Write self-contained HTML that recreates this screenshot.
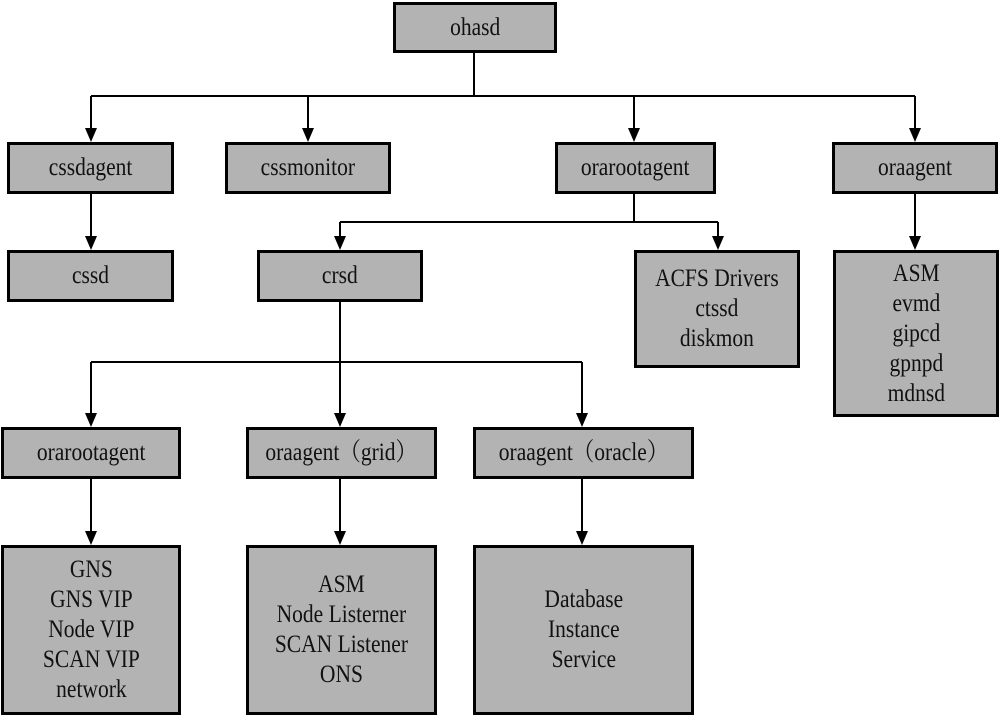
<!DOCTYPE html>
<html><head><meta charset="utf-8"><style>
body{margin:0;width:1000px;height:716px;background:#fff;position:relative;overflow:hidden;font-family:"Liberation Serif","Noto Serif CJK SC",serif}
.b{position:absolute;box-sizing:border-box;background:#b3b3b3;border:3px solid #000;display:flex;align-items:center;justify-content:center;text-align:center;font-size:25px;line-height:30px;color:#111}
.b span{display:inline-block;transform:scaleX(0.86);white-space:nowrap}
svg{position:absolute;left:0;top:0}
</style></head><body>
<svg width="1000" height="716">
<defs><marker id="a" markerWidth="10" markerHeight="14" refX="5" refY="14" orient="auto" markerUnits="userSpaceOnUse"><path d="M0,0 L10,0 L5,14 z" fill="#000" transform="rotate(-90 5 7) translate(-2 2)"/></marker></defs>
<g stroke="#000" stroke-width="2" fill="none">
<path d="M474 52V96M91 96H915"/>
<path d="M91 96V128M308 96V128M634 96V128M915 96V128"/>
<path d="M91 193V236M915 193V236"/>
<path d="M634 193V222M340 222H718M340 222V236M718 222V236"/>
<path d="M340 302V362M91 362H582M91 362V413M340 362V413M582 362V413"/>
<path d="M91 479V531M340 479V531M582 479V531"/>
</g>
<g fill="#000">
<path d="M85 128h12l-6 14z"/><path d="M302 128h12l-6 14z"/><path d="M628 128h12l-6 14z"/><path d="M909 128h12l-6 14z"/>
<path d="M85 236h12l-6 14z"/><path d="M909 236h12l-6 14z"/><path d="M334 236h12l-6 14z"/><path d="M712 236h12l-6 14z"/>
<path d="M85 413h12l-6 14z"/><path d="M334 413h12l-6 14z"/><path d="M576 413h12l-6 14z"/>
<path d="M85 531h12l-6 14z"/><path d="M334 531h12l-6 14z"/><path d="M576 531h12l-6 14z"/>
</g>
</svg>
<div class="b" style="left:393px;top:2px;width:164px;height:51px"><span>ohasd</span></div>
<div class="b" style="left:7px;top:142px;width:167px;height:52px"><span>cssdagent</span></div>
<div class="b" style="left:225px;top:142px;width:166px;height:52px"><span>cssmonitor</span></div>
<div class="b" style="left:555px;top:142px;width:161px;height:52px"><span>orarootagent</span></div>
<div class="b" style="left:832px;top:142px;width:166px;height:52px"><span>oraagent</span></div>
<div class="b" style="left:7px;top:250px;width:167px;height:52px"><span>cssd</span></div>
<div class="b" style="left:257px;top:250px;width:166px;height:52px"><span>crsd</span></div>
<div class="b" style="left:634px;top:250px;width:166px;height:118px"><span>ACFS Drivers<br>ctssd<br>diskmon</span></div>
<div class="b" style="left:833px;top:250px;width:166px;height:167px"><span>ASM<br>evmd<br>gipcd<br>gpnpd<br>mdnsd</span></div>
<div class="b" style="left:1px;top:427px;width:180px;height:52px"><span>orarootagent</span></div>
<div class="b" style="left:246px;top:427px;width:191px;height:52px"><span>oraagent（grid）</span></div>
<div class="b" style="left:473px;top:427px;width:221px;height:52px"><span>oraagent（oracle）</span></div>
<div class="b" style="left:1px;top:545px;width:180px;height:170px"><span>GNS<br>GNS VIP<br>Node VIP<br>SCAN VIP<br>network</span></div>
<div class="b" style="left:246px;top:545px;width:191px;height:170px"><span>ASM<br>Node Listerner<br>SCAN Listener<br>ONS</span></div>
<div class="b" style="left:473px;top:545px;width:221px;height:170px"><span>Database<br>Instance<br>Service</span></div>
</body></html>
